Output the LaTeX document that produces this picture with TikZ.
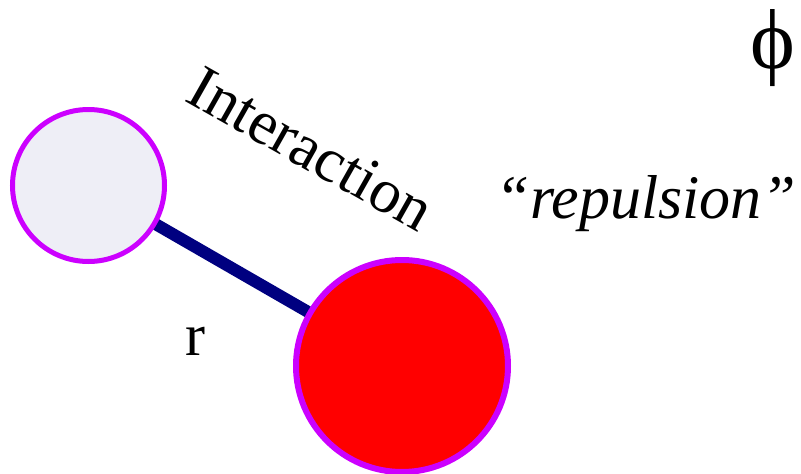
\documentclass[tikz,border=0pt]{standalone}
\usepackage{fontspec}
\newfontfamily\tms{Liberation Serif}
\usetikzlibrary{backgrounds}
\definecolor{ringpurple}{HTML}{CC00FF}
\definecolor{lightball}{HTML}{EEEEF6}
\definecolor{bondnavy}{HTML}{000080}
\tikzset{
  ball/.style={circle, draw=ringpurple, inner sep=0pt, outer sep=0pt},
  bond/.style={draw=bondnavy, line width=12pt},
  lbl/.style={inner sep=0pt, outer sep=0pt, text=black}
}
\begin{document}
\begin{tikzpicture}[x=1pt, y=-1pt]
\useasboundingbox (0,0) rectangle (801,474);
\node[ball, fill=lightball, line width=5pt, minimum size=152pt] (small) at (88.5,185.5) {};
\node[ball, fill=red, line width=6pt, minimum size=212pt] (big) at (402,366) {};
\begin{scope}[on background layer]
  \draw[bond] (small.center) -- (big.center);
\end{scope}
\node[lbl, anchor=base west, rotate=-29.5, font=\tms\fontsize{62.5pt}{70pt}\selectfont] (inter) at (183,100) {Interaction};
\node[lbl, anchor=base west, font=\tms\fontsize{60pt}{70pt}\selectfont] (r) at (185,355) {r};
\node[lbl, anchor=base, font=\tms\fontsize{62pt}{70pt}\selectfont\itshape] (rep) at (646,218) {“repulsion”};
\node[lbl, anchor=center, font=\tms\fontsize{85pt}{90pt}\selectfont] (phi) at (773,48) {ϕ};
\end{tikzpicture}
\end{document}
